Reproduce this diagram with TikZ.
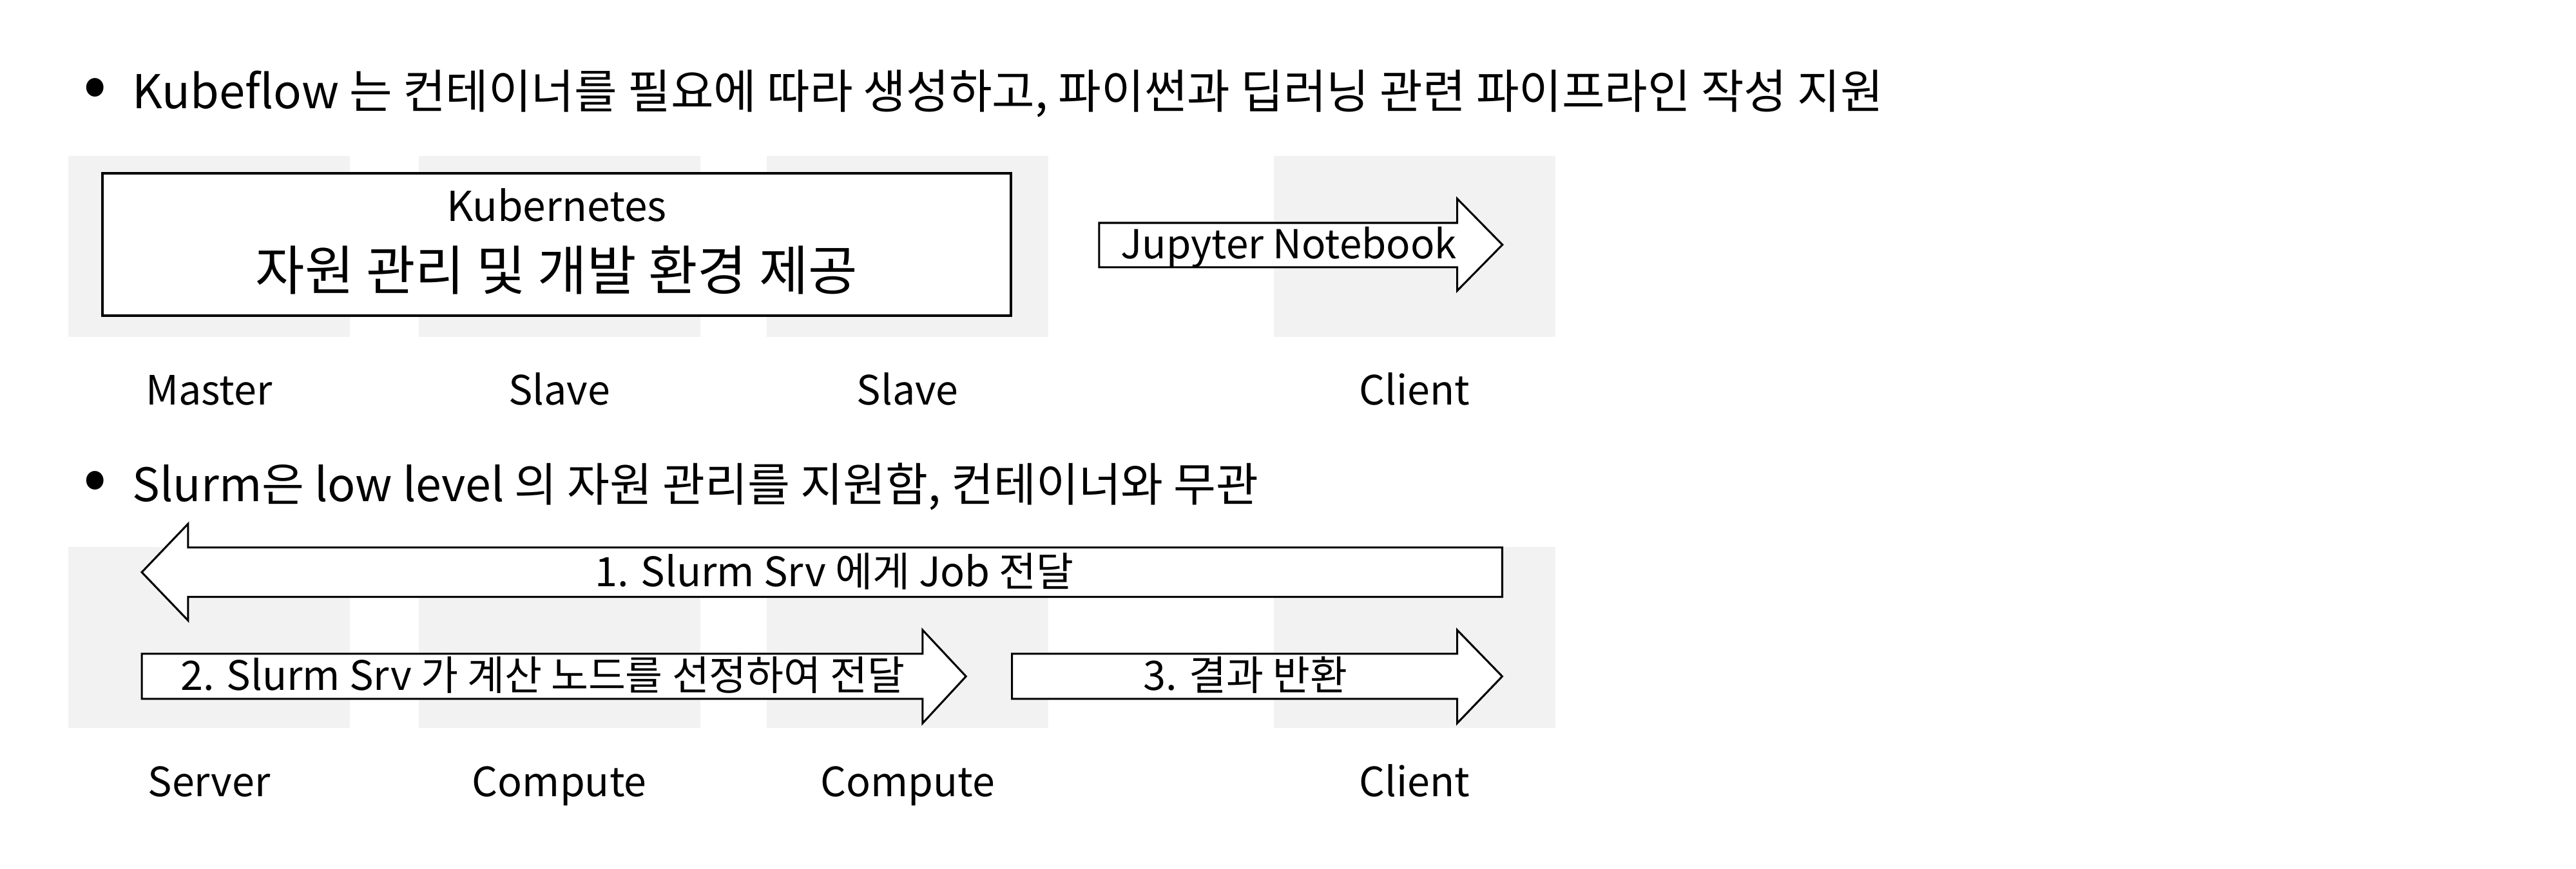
\documentclass[tikz,border=0pt]{standalone}
\usepackage{fontspec}
\setmainfont{Noto Sans CJK KR}
\usetikzlibrary{positioning}

\begin{document}
\begin{tikzpicture}[x=1pt,y=-1pt,
  col/.style={fill=black!5, minimum width=171.5pt, minimum height=110.3pt, inner sep=0pt},
  lbl/.style={anchor=base, inner sep=0pt, font=\fontsize{24.6}{28}\selectfont},
  bul/.style={anchor=base west, inner sep=0pt, font=\fontsize{28.4}{32}\selectfont},
  dot/.style={anchor=center, inner sep=0pt, font=\fontsize{42}{48}\selectfont},
  blk/.style={draw=black, line width=1.2pt, fill=white, line join=miter},
  atxt/.style={anchor=base, inner sep=0pt, font=\fontsize{24.7}{28}\selectfont}]
\useasboundingbox (0,0) rectangle (1568,528.7);

% Kubeflow
\node [dot] (dot1) at (58,56.5) {•};
\node [bul] (kf) at (80.5,66) {Kubeflow 는 컨테이너를 필요에 따라 생성하고, 파이썬과 딥러닝 관련 파이프라인 작성 지원};
\node [col] (c1) at (127.3,150) {};
\node [col] (c2) at (340.5,150) {};
\node [col] (c3) at (552.5,150) {};
\node [col] (c4) at (861,150) {};
\node [draw, line width=1.6pt, fill=white, minimum width=552.8pt, minimum height=86.7pt] (k8s) at (338.8,148.9) {};
\node [atxt, font=\fontsize{25.1}{28}\selectfont] (k8sname) at (338.8,134.6) {Kubernetes};
\node [atxt, font=\fontsize{32.6}{36}\selectfont] (k8sjob) at (338.8,176.5) {자원 관리 및 개발 환경 제공};
\draw [blk] (669,135.7) -- (887,135.7) -- (887,121) -- (914.5,149) -- (887,177) -- (887,162.7) -- (669,162.7) -- cycle;
\node [atxt, font=\fontsize{24.3}{28}\selectfont] (jup) at (784.5,157.5) {Jupyter Notebook};
\node [lbl] (master) at (127.3,246.4) {Master};
\node [lbl] (slave1) at (340.5,246.4) {Slave};
\node [lbl] (slave2) at (552.5,246.4) {Slave};
\node [lbl] (client1) at (861,246.4) {Client};

% Slurm
\node [dot] (dot2) at (58,296) {•};
\node [bul, font=\fontsize{28.1}{32}\selectfont] (sl) at (80.5,305.5) {Slurm은 low level 의 자원 관리를 지원함, 컨테이너와 무관};
\node [col] (d1) at (127.3,388.2) {};
\node [col] (d2) at (340.5,388.2) {};
\node [col] (d3) at (552.5,388.2) {};
\node [col] (d4) at (861,388.2) {};
\draw [blk] (914.4,333.3) -- (114.5,333.3) -- (114.5,318.9) -- (86.3,348.4) -- (114.5,377.8) -- (114.5,363.4) -- (914.4,363.4) -- cycle;
\node [atxt] (step1) at (508,356.9) {1. Slurm Srv 에게 Job 전달};
\draw [blk] (86.3,398) -- (561.6,398) -- (561.6,383.6) -- (588,411.8) -- (561.6,440.3) -- (561.6,425.5) -- (86.3,425.5) -- cycle;
\node [atxt] (step2) at (330.5,420.3) {2. Slurm Srv 가 계산 노드를 선정하여 전달};
\draw [blk] (616,398) -- (887,398) -- (887,383.6) -- (914.4,411.8) -- (887,440.3) -- (887,425.5) -- (616,425.5) -- cycle;
\node [atxt] (step3) at (758,420.3) {3. 결과 반환};
\node [lbl] (server) at (127.3,485) {Server};
\node [lbl] (comp1) at (340.5,485) {Compute};
\node [lbl] (comp2) at (552.5,485) {Compute};
\node [lbl] (client2) at (861,485) {Client};
\end{tikzpicture}
\end{document}
